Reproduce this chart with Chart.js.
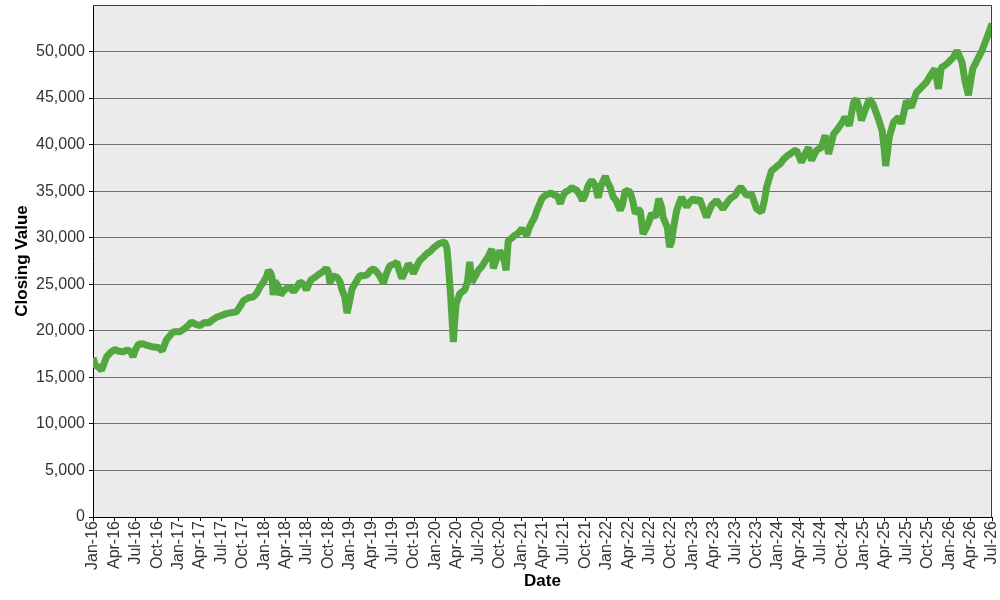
<!doctype html>
<html>
  <head>
    <script src="https://cdnjs.cloudflare.com/ajax/libs/Chart.js/4.4.1/chart.umd.js"></script>
    <style>
      html, body { margin: 0; padding: 0; background: #fff; }
    </style>
    <script>
      // months since Jan-16
      let months = [
        0, 0.3, 0.8, 1.2, 1.9, 2.5, 3.1, 3.6, 4.25, 4.8, 5.3, 5.6, 5.9, 6.35, 7.0, 7.5, 8.45, 9.2, 9.7,
        10.3, 10.8, 11.25, 12.2, 13.1, 13.8, 14.4, 15.0, 15.6, 16.2, 16.8, 17.3, 18.0, 18.7, 19.4,
        20.1, 20.6, 21.1, 21.8, 22.5, 23.0, 23.4, 23.9, 24.3, 24.6, 24.9, 25.1, 25.25, 25.5, 25.8,
        26.1, 26.3, 26.7, 27.1, 27.6, 28.1, 28.6, 29.0, 29.5, 29.9, 30.3, 30.6, 31.2, 31.8, 32.3,
        32.7, 33.0, 33.2, 33.6, 34.2, 34.6, 34.9, 35.3, 35.6, 36.0, 36.3, 36.9, 37.4, 37.9, 38.4,
        38.9, 39.3, 39.7, 40.0, 40.4, 40.7, 41.1, 41.6, 42.1, 42.6, 42.9, 43.3, 43.8, 44.2, 44.6,
        44.9, 45.4, 45.8, 46.3, 46.8, 47.3, 47.7, 48.2, 48.6, 49.3, 49.6, 49.8, 50.1, 50.3, 50.5,
        50.7, 50.9, 51.4, 52.1, 52.5, 52.8, 53.1, 53.6, 54.0, 54.5, 54.9, 55.4, 55.9, 56.1, 56.6,
        57.0, 57.5, 57.9, 58.2, 58.6, 59.1, 59.6, 60.1, 60.8, 61.1, 61.5, 61.9, 62.2, 62.6, 62.9,
        63.3, 63.8, 64.2, 64.7, 65.1, 65.5, 65.8, 66.2, 66.7, 67.1, 67.5, 67.8, 68.3, 68.6, 69.0,
        69.4, 69.9, 70.4, 70.8, 71.2, 71.8, 72.1, 72.5, 72.9, 73.3, 73.9, 74.2, 74.6, 75.3, 75.7,
        76.0, 76.4, 76.7, 77.1, 77.5, 77.8, 78.3, 78.8, 79.3, 79.7, 79.9, 80.5, 80.8, 81.1, 81.3,
        81.8, 82.1, 82.5, 83.2, 83.6, 84.1, 84.6, 85.0, 85.5, 86.0, 86.7, 87.4, 88.3, 88.8, 89.3,
        90.0, 90.4, 90.8, 91.2, 91.6, 92.3, 93.0, 93.7, 94.1, 94.4, 95.1, 95.6, 96.0, 96.4, 96.8,
        97.3, 97.7, 98.2, 98.6, 99.3, 99.8, 100.3, 100.7, 101.4, 102.1, 102.6, 103.1, 103.8, 104.3,
        104.7, 105.1, 105.4, 106.0, 106.6, 107.0, 107.4, 107.7, 108.2, 108.8, 109.3, 110.0, 110.6,
        110.9, 111.1, 111.4, 111.6, 112.2, 112.9, 113.3, 114.0, 114.7, 115.4, 116.1, 116.8, 117.5,
        118.0, 118.5, 118.9, 119.4, 119.9, 120.6, 121.1, 121.8, 122.2, 122.7, 123.0, 123.3, 123.9,
        124.6, 125.3, 126.0
      ];
      let closes = [
        17100, 16300, 16100, 15750, 17200, 17700, 18000, 17800, 17750, 17950, 17750, 17200, 17900, 18550, 18600, 18450, 18250, 18200, 17850,
        19050, 19500, 19900, 19900, 20400, 20950, 20700, 20550, 20900, 20850, 21200, 21450, 21650, 21850, 21950,
        22050, 22600, 23250, 23550, 23650, 24100, 24700, 25250, 25800, 26500, 26200, 25700, 23850, 25300, 25000,
        24500, 23850, 24300, 24550, 24700, 24200, 24700, 25250, 25000, 24400, 25100, 25500, 25800, 26150, 26400,
        26750, 26300, 25100, 25900, 25750, 25300, 24400, 23600, 21900, 23300, 24500, 25300, 25950, 25900, 26000,
        26500, 26650, 26400, 26100, 25600, 25100, 26100, 27000, 27150, 27350, 26500, 25650, 26500, 27200, 26800,
        26150, 27000, 27550, 27900, 28300, 28550, 28900, 29200, 29400, 29550, 28900, 27200, 24000, 21500, 18800,
        21000, 22900, 24000, 24400, 25300, 27400, 25200, 25900, 26500, 26900, 27400, 28000, 28800, 26700, 27800,
        28600, 28000, 26500, 29700, 29900, 30250, 30500, 30950, 30250, 31000, 31650, 32200, 32900, 33600, 34200,
        34500, 34700, 34800, 34550, 34500, 33650, 34400, 34900, 35100, 35400, 35200, 35100, 34500, 34000, 34600,
        35600, 36200, 35600, 34300, 35600, 36600, 36000, 35400, 34400, 34000, 32950, 33500, 35100, 34900, 33800,
        32600, 33000, 32900, 30400, 31000, 31500, 32600, 32200, 34200, 33300, 32200, 31100, 29000, 29600, 30800,
        32900, 33600, 34350, 33300, 33800, 34200, 33900, 34200, 33200, 32200, 33500, 34000, 33100, 33700, 34200,
        34550, 35100, 35450, 35000, 34550, 34700, 33100, 32750, 34000, 35400, 37200, 37500, 37750, 38000, 38450,
        38800, 39000, 39300, 39400, 38100, 39000, 39700, 38300, 39400, 39700, 41000, 39000, 41150, 41600,
        42050, 42500, 42950, 42050, 44550, 44900, 43800, 42600, 43650, 44900, 44400, 42950, 41500,
        39500, 37700, 39500, 40800, 42400, 42950, 42250, 44700, 44000, 45600, 46150, 46700, 47600,
        48150, 46000, 48300, 48500, 48850, 49400, 50100, 48850, 46900, 45300, 46800, 48150, 49050,
        50100, 51500, 53000
      ];
      let quarterLabels = [
        'Jan-16','Apr-16','Jul-16','Oct-16','Jan-17','Apr-17','Jul-17','Oct-17',
        'Jan-18','Apr-18','Jul-18','Oct-18','Jan-19','Apr-19','Jul-19','Oct-19',
        'Jan-20','Apr-20','Jul-20','Oct-20','Jan-21','Apr-21','Jul-21','Oct-21',
        'Jan-22','Apr-22','Jul-22','Oct-22','Jan-23','Apr-23','Jul-23','Oct-23',
        'Jan-24','Apr-24','Jul-24','Oct-24','Jan-25','Apr-25','Jul-25','Oct-25',
        'Jan-26','Apr-26','Jul-26'
      ];
      let yTicks = [0, 5000, 10000, 15000, 20000, 25000, 30000, 35000, 40000, 45000, 50000];

      let chart1;
      const fontFamily = "'Liberation Sans', Arial, sans-serif";

      const plotFrame = {
        id: 'plotFrame',
        beforeDraw(chart) {
          const a = chart.chartArea, ctx = chart.ctx;
          ctx.save();
          ctx.fillStyle = '#ebebeb';
          ctx.fillRect(a.left, a.top, a.right - a.left, a.bottom - a.top);
          ctx.restore();
        },
        afterDraw(chart) {
          const a = chart.chartArea, ctx = chart.ctx;
          ctx.save();
          ctx.strokeStyle = '#404040';
          ctx.lineWidth = 1;
          ctx.beginPath();
          ctx.moveTo(a.left, a.top + 0.5);
          ctx.lineTo(a.right - 0.5, a.top + 0.5);
          ctx.lineTo(a.right - 0.5, a.bottom);
          ctx.stroke();
          ctx.restore();
        }
      };

      function startPage() {
        let points = months.map((m, i) => ({ x: m, y: closes[i] }));
        chart1 = new Chart(document.getElementById('c1'), {
          type: 'line',
          data: {
            datasets: [{
              label: 'Closing Value',
              data: points,
              borderColor: '#52a83e',
              borderWidth: 7,
              borderJoinStyle: 'bevel',
              pointRadius: 0,
              tension: 0,
              fill: false
            }]
          },
          options: {
            responsive: false,
            animation: false,
            layout: { padding: { top: 5, right: 8, left: 0, bottom: 0 } },
            plugins: { legend: { display: false }, tooltip: { enabled: false } },
            scales: {
              x: {
                type: 'linear',
                min: 0,
                max: 126,
                afterBuildTicks: s => { s.ticks = quarterLabels.map((l, i) => ({ value: i * 3 })); },
                afterFit: s => { s.height = 83; s.paddingLeft = 0; s.paddingRight = 0; },
                ticks: {
                  autoSkip: false,
                  minRotation: 90,
                  maxRotation: 90,
                  padding: 0,
                  color: '#333',
                  font: { family: fontFamily, size: 16 },
                  callback: (v, i) => quarterLabels[i]
                },
                grid: { drawOnChartArea: false, drawTicks: true, tickLength: 4, tickColor: '#000' },
                border: { color: '#000', width: 1 },
                title: {
                  display: true,
                  text: 'Date',
                  color: '#000',
                  padding: { top: 0, bottom: 8 },
                  font: { family: fontFamily, size: 17, weight: 'bold' }
                }
              },
              y: {
                min: 0,
                max: 55000,
                afterBuildTicks: s => { s.ticks = yTicks.map(v => ({ value: v })); },
                afterFit: s => { s.width = 93; s.paddingTop = 0; s.paddingBottom = 0; },
                ticks: {
                  padding: 4,
                  color: '#333',
                  font: { family: fontFamily, size: 16 },
                  callback: v => v.toLocaleString('en-US')
                },
                grid: { color: '#707070', lineWidth: 1, tickLength: 4, tickColor: '#000' },
                border: { color: '#000', width: 1 },
                title: {
                  display: true,
                  text: 'Closing Value',
                  color: '#000',
                  padding: { top: 12, bottom: 0 },
                  font: { family: fontFamily, size: 17, weight: 'bold' }
                }
              }
            }
          },
          plugins: [plotFrame]
        });
      }
    </script>
  </head>
  <body onload="startPage()">
    <canvas id="c1" width="1000" height="600"></canvas>
  </body>
</html>
